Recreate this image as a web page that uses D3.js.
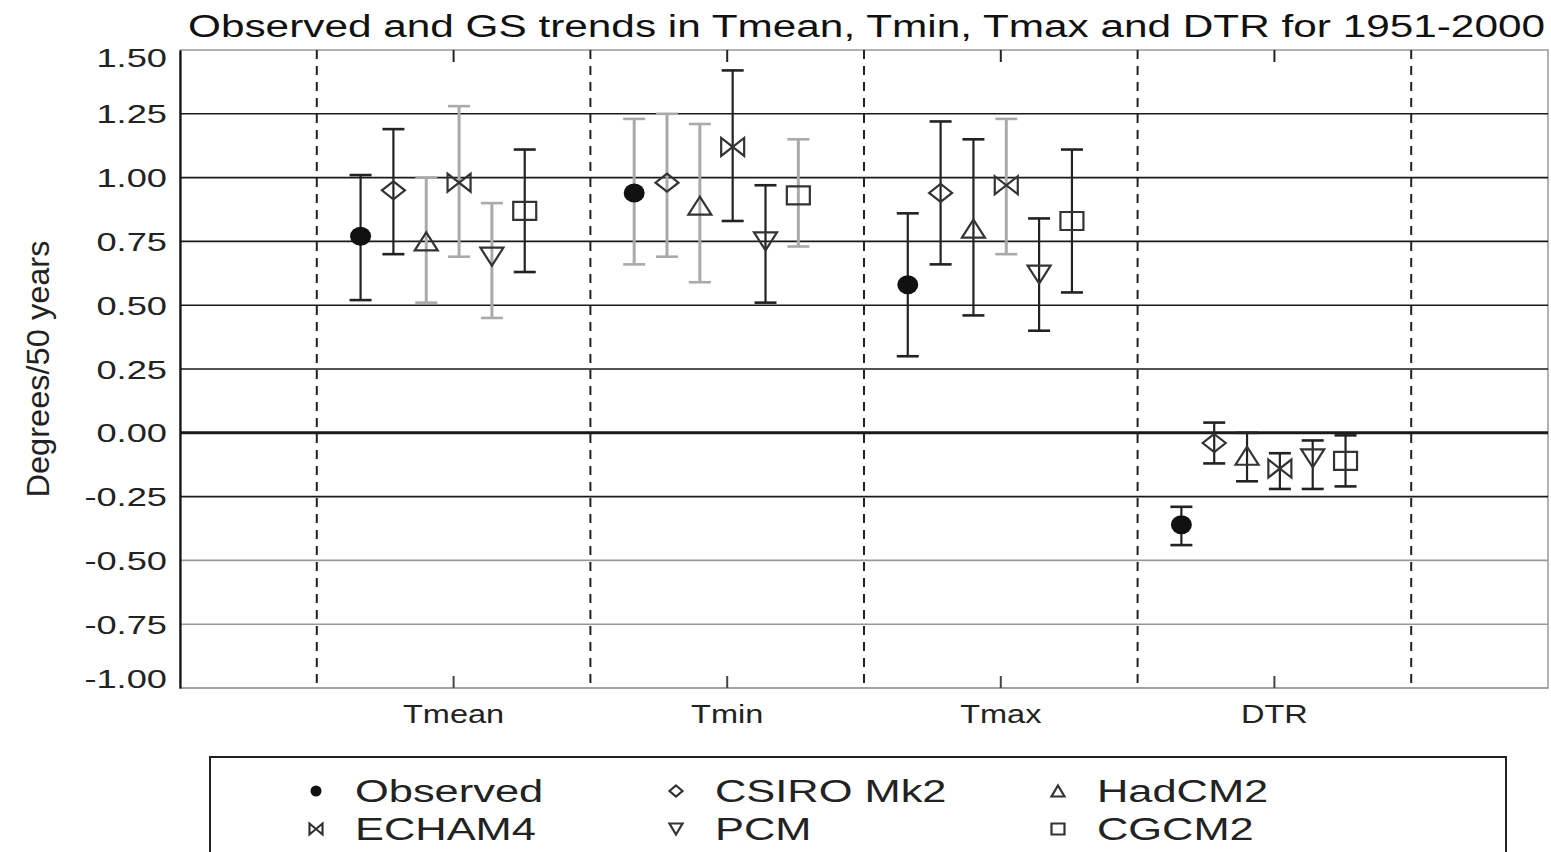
<!DOCTYPE html>
<html>
<head>
<meta charset="utf-8">
<script src="https://cdn.jsdelivr.net/npm/d3@7"></script>
<style>
  body { margin: 0; background: #fff; }
  svg { display: block; font-family: "Liberation Sans", Arial, sans-serif; }
</style>
</head>
<body>
<svg id="chart" width="1551" height="852"></svg>
<script>
'use strict';

// trend, lower bound, upper bound (degrees / 50 years) per category
const categories = ['Tmean', 'Tmin', 'Tmax', 'DTR'];
const models = ['Observed', 'CSIRO Mk2', 'HadCM2', 'ECHAM4', 'PCM', 'CGCM2'];
const observed = [[0.77, 0.52, 1.01], [0.94, 0.66, 1.23], [0.58, 0.30, 0.86], [-0.36, -0.44, -0.29]];
const csiro    = [[0.95, 0.70, 1.19], [0.98, 0.69, 1.25], [0.94, 0.66, 1.22], [-0.04, -0.12, 0.04]];
const hadcm2   = [[0.75, 0.51, 1.00], [0.89, 0.59, 1.21], [0.80, 0.46, 1.15], [-0.09, -0.19, 0.00]];
const echam4   = [[0.98, 0.69, 1.28], [1.12, 0.83, 1.42], [0.97, 0.70, 1.23], [-0.14, -0.22, -0.08]];
const pcm      = [[0.69, 0.45, 0.90], [0.75, 0.51, 0.97], [0.62, 0.40, 0.84], [-0.10, -0.22, -0.03]];
const cgcm2    = [[0.87, 0.63, 1.11], [0.93, 0.73, 1.15], [0.83, 0.55, 1.11], [-0.11, -0.21, -0.01]];
const yTicks = [-1.00, -0.75, -0.50, -0.25, 0.00, 0.25, 0.50, 0.75, 1.00, 1.25, 1.50];
const title = 'Observed and GS trends in Tmean, Tmin, Tmax and DTR for 1951-2000';
const yTitle = 'Degrees/50 years';

const seriesValues = [observed, csiro, hadcm2, echam4, pcm, cgcm2];

// which error bars print as light grey in the original
const lightBars = {
  Tmean: ['HadCM2', 'ECHAM4', 'PCM'],
  Tmin: ['Observed', 'CSIRO Mk2', 'HadCM2', 'CGCM2'],
  Tmax: ['ECHAM4'],
  DTR: []
};

const svg = d3.select('#chart');
const margin = { left: 180, right: 1548, top: 50, bottom: 688 };

const x = d3.scaleLinear().domain([-0.5, categories.length + 0.5]).range([margin.left, margin.right]);
const band = x(1) - x(0);
const xs = d3.scalePoint().domain(models).range([0.16 * band, 0.76 * band]);
const y = d3.scaleLinear().domain([-1, 1.5]).range([margin.bottom, margin.top]);
const fmt = v => d3.format('.2f')(v).replace('\u2212', '-');

function stretch(sel, k) {
  sel.each(function() {
    const len = this.getComputedTextLength();
    d3.select(this).attr('textLength', len * k).attr('lengthAdjust', 'spacingAndGlyphs');
  });
}

// marker shapes, w x h box
function markerPath(name, w, h) {
  const a = w / 2, b = h / 2;
  switch (name) {
    case 'CSIRO Mk2': return `M0,${-b}L${a},0L0,${b}L${-a},0Z`;
    case 'HadCM2': return `M0,${-b}L${a},${b}L${-a},${b}Z`;
    case 'ECHAM4': return `M${-a},${-b}L${a},${b}L${a},${-b}L${-a},${b}Z`;
    case 'PCM': return `M0,${b}L${a},${-b}L${-a},${-b}Z`;
    case 'CGCM2': return `M${-a},${-b}H${a}V${b}H${-a}Z`;
  }
  return null;
}

function drawMarker(g, name, w, h) {
  if (name === 'Observed') {
    g.append('ellipse').attr('rx', w / 2).attr('ry', h / 2).attr('fill', '#111');
  } else {
    g.append('path').attr('d', markerPath(name, w, h))
      .attr('fill', 'none').attr('stroke', '#333').attr('stroke-width', 2.2)
      .attr('stroke-linejoin', 'miter');
  }
}

// title
svg.append('text')
  .attr('x', 188).attr('y', 37)
  .attr('font-size', 31).attr('fill', '#111')
  .attr('textLength', 1357).attr('lengthAdjust', 'spacingAndGlyphs')
  .text(title);

// frame
svg.append('rect')
  .attr('x', margin.left).attr('y', margin.top)
  .attr('width', margin.right - margin.left).attr('height', margin.bottom - margin.top)
  .attr('fill', 'none').attr('stroke', '#999').attr('stroke-width', 1.5);

// horizontal grid
svg.append('g')
  .selectAll('line')
  .data(yTicks.filter(v => v < 1.5))
  .join('line')
  .attr('x1', margin.left).attr('x2', margin.right)
  .attr('y1', d => y(d)).attr('y2', d => y(d))
  .attr('stroke', d => d < -0.3 ? '#9a9a9a' : '#1a1a1a')
  .attr('stroke-width', d => d === 0 ? 3 : 1.6);

// group separators
svg.append('g')
  .selectAll('line')
  .data(d3.range(categories.length + 1))
  .join('line')
  .attr('x1', d => x(d)).attr('x2', d => x(d))
  .attr('y1', margin.top).attr('y2', margin.bottom)
  .attr('stroke', '#222').attr('stroke-width', 2)
  .attr('stroke-dasharray', '9,7');

// category ticks on top and bottom
const catTicks = svg.append('g');
categories.forEach((c, i) => {
  catTicks.append('line')
    .attr('x1', x(i + 0.5)).attr('x2', x(i + 0.5))
    .attr('y1', margin.top).attr('y2', margin.top + 12)
    .attr('stroke', '#222').attr('stroke-width', 2);
  catTicks.append('line')
    .attr('x1', x(i + 0.5)).attr('x2', x(i + 0.5))
    .attr('y1', margin.bottom).attr('y2', margin.bottom - 12)
    .attr('stroke', '#444').attr('stroke-width', 2);
});

// y axis
const yAxis = d3.axisLeft(y).tickValues(yTicks).tickFormat(fmt).tickSize(0).tickPadding(13);
const yg = svg.append('g').attr('transform', `translate(${margin.left},0)`).call(yAxis);
yg.select('.domain').attr('stroke', '#111').attr('stroke-width', 2.2);
yg.selectAll('text')
  .attr('font-family', '"Liberation Sans", Arial, sans-serif')
  .attr('font-size', 25).attr('fill', '#222')
  .attr('dy', d => d === 1.5 ? '0.64em' : d === -1 ? '-0.04em' : '0.36em')
  .call(stretch, 1.45);

// y title
svg.append('text')
  .attr('transform', 'translate(49,369) rotate(-90)')
  .attr('text-anchor', 'middle')
  .attr('font-size', 31).attr('fill', '#222')
  .attr('textLength', 257).attr('lengthAdjust', 'spacingAndGlyphs')
  .text(yTitle);

// x labels
svg.append('g')
  .selectAll('text')
  .data(categories)
  .join('text')
  .attr('x', (d, i) => x(i + 0.5))
  .attr('y', 723)
  .attr('text-anchor', 'middle')
  .attr('font-size', 25).attr('fill', '#222')
  .text(d => d)
  .call(stretch, 1.3);

// error bars + markers
const plot = svg.append('g');
models.forEach((m, j) => {
  seriesValues[j].forEach((v, i) => {
    const cx = x(i) + xs(m);
    const light = lightBars[categories[i]].includes(m);
    const col = light ? '#aaa' : '#222';
    const g = plot.append('g');
    g.append('line')
      .attr('x1', cx).attr('x2', cx)
      .attr('y1', y(v[1])).attr('y2', y(v[2]))
      .attr('stroke', col).attr('stroke-width', light ? 3 : 2.2);
    [v[1], v[2]].forEach(e => {
      g.append('line')
        .attr('x1', cx - 11).attr('x2', cx + 11)
        .attr('y1', y(e)).attr('y2', y(e))
        .attr('stroke', col).attr('stroke-width', 2.6);
    });
    const mk = plot.append('g').attr('transform', `translate(${cx},${y(v[0])})`);
    drawMarker(mk, m, m === 'Observed' ? 21 : 23, m === 'Observed' ? 19 : 18);
  });
});

// legend
const legend = svg.append('g');
legend.append('rect')
  .attr('x', 210).attr('y', 757)
  .attr('width', 1296).attr('height', 120)
  .attr('fill', '#fff').attr('stroke', '#222').attr('stroke-width', 2);
const legX = [316, 676, 1058];
const legY = [791, 829];
models.forEach((m, j) => {
  const cx = legX[j % 3], cy = legY[Math.floor(j / 3)];
  const mk = legend.append('g').attr('transform', `translate(${cx},${cy})`);
  drawMarker(mk, m, m === 'Observed' ? 11 : 13, 11);
  legend.append('text')
    .attr('x', cx + 39).attr('y', cy + 11)
    .attr('font-size', 31).attr('fill', '#222')
    .text(m)
    .call(stretch, 1.4);
});
</script>
</body>
</html>
